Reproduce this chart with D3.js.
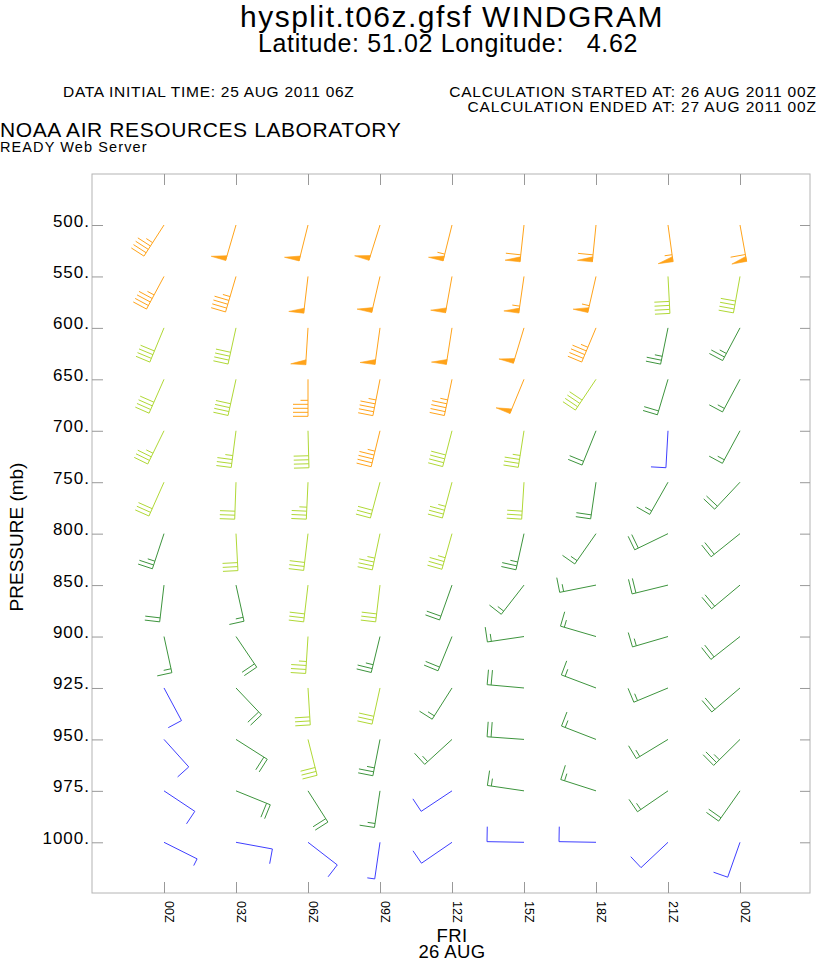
<!DOCTYPE html>
<html><head><meta charset="utf-8">
<script src="https://cdn.jsdelivr.net/npm/d3@7"></script>
<style>
html,body{margin:0;padding:0;background:#fff;}
svg{display:block;font-family:"Liberation Sans",Arial,Helvetica,sans-serif;}
</style></head><body>
<svg id="chart" width="816" height="962"></svg>
<script>
// ---- data ----
const levels = [500, 550, 600, 650, 700, 750, 800, 850, 900, 925, 950, 975, 1000];
const levelLabels = ["500.", "550.", "600.", "650.", "700.", "750.", "800.", "850.", "900.", "925.", "950.", "975.", "1000."];
const timeLabels = ["00Z", "03Z", "06Z", "09Z", "12Z", "15Z", "18Z", "21Z", "00Z"];
const dayLabel = "FRI";
const dateLabel = "26 AUG";

// wind direction (degrees, direction wind blows from), one row per level, one column per time
const windDir = [
  [212.8, 196.3, 194.0, 197.4, 194.0, 186.2, 185.7, 172.2, 169.7],
  [208.2, 196.4, 186.7, 193.0, 190.2, 188.2, 192.9, 177.0, 190.2],
  [202.5, 192.4, 183.6, 187.9, 188.9, 196.8, 202.7, 191.5, 208.0],
  [203.8, 192.4, 180.0, 191.1, 191.9, 202.4, 213.8, 196.6, 208.2],
  [206.1, 187.4, 178.5, 193.8, 194.6, 188.9, 202.1, 183.2, 208.4],
  [204.0, 182.0, 182.6, 195.0, 195.0, 183.6, 188.3, 209.6, 223.2],
  [198.3, 177.0, 186.7, 192.0, 195.8, 192.5, 215.0, 244.1, 231.3],
  [186.7, 167.5, 186.7, 186.7, 199.6, 217.9, 258.7, 256.2, 230.1],
  [167.7, 145.9, 183.6, 193.7, 202.2, 261.6, 286.3, 253.7, 231.8],
  [151.8, 136.5, 176.5, 192.4, 212.4, 275.1, 290.7, 247.4, 229.6],
  [138.0, 122.4, 165.8, 191.1, 227.6, 274.1, 291.2, 238.8, 225.4],
  [123.6, 112.1, 147.5, 188.6, 236.4, 278.4, 287.8, 235.6, 215.2],
  [116.6, 100.4, 127.7, 188.2, 235.6, 271.0, 271.0, 226.8, 199.4]
];
// wind speed (knots)
const windSpeed = [
  [45, 50, 50, 50, 55, 60, 60, 55, 60],
  [45, 45, 50, 50, 50, 55, 55, 40, 40],
  [40, 40, 50, 50, 50, 50, 45, 25, 25],
  [40, 40, 45, 45, 45, 50, 40, 20, 15],
  [35, 35, 40, 45, 40, 35, 20, 10, 15],
  [30, 30, 35, 30, 35, 30, 20, 15, 20],
  [25, 30, 30, 35, 35, 25, 15, 20, 20],
  [20, 15, 30, 30, 20, 15, 15, 20, 20],
  [15, 20, 35, 25, 20, 15, 15, 15, 20],
  [10, 20, 30, 30, 15, 20, 15, 15, 20],
  [10, 20, 30, 25, 15, 20, 15, 15, 25],
  [10, 20, 20, 15, 10, 15, 15, 15, 20],
  [5, 10, 10, 5, 10, 10, 10, 10, 10]
];
const speedBreaks = [12.5, 27.5, 42.5];
const speedColors = ["#3f3fff", "#3d943d", "#b0d836", "#ffa31a"];

// ---- drawing ----
const svg = d3.select("#chart");
const frameL = 92, frameR = 810, frameT = 174, frameB = 893;

const x = d3.scalePoint().domain(d3.range(timeLabels.length)).range([164, 740]);
const y = d3.scalePoint().domain(levels).range([225, 842.3]);
const color = d3.scaleThreshold().domain(speedBreaks).range(speedColors);

// titles
function txt(str, xx, yy, size, anchor, ls) {
  return svg.append("text").attr("x", xx).attr("y", yy)
    .attr("font-size", size).attr("text-anchor", anchor || "start")
    .attr("letter-spacing", ls || 0).attr("fill", "#000")
    .style("white-space", "pre").text(str);
}
txt("hysplit.t06z.gfsf WINDGRAM", 452, 27, 30, "middle", 1.5);
txt("Latitude: 51.02 Longitude:   4.62", 448, 52, 25, "middle", 0.65);
txt("DATA INITIAL TIME: 25 AUG 2011 06Z", 63, 97, 15.5, "start", 0.72);
txt("CALCULATION STARTED AT: 26 AUG 2011 00Z", 816.8, 97, 15.5, "end", 0.85);
txt("CALCULATION ENDED AT: 27 AUG 2011 00Z", 816.8, 112, 15.5, "end", 0.85);
txt("NOAA AIR RESOURCES LABORATORY", 0, 137, 21, "start", 0.6);
txt("READY Web Server", 0, 152, 14.5, "start", 1.1);

// frame
svg.append("rect").attr("x", frameL).attr("y", frameT)
  .attr("width", frameR - frameL).attr("height", frameB - frameT)
  .attr("fill", "none").attr("stroke", "#b4b4b4").attr("stroke-width", 1);

function styleAxis(g) {
  g.select(".domain").remove();
  g.selectAll(".tick line").attr("stroke", "#999");
}
// left axis
const gl = svg.append("g").attr("transform", `translate(${frameL},0)`)
  .call(d3.axisLeft(y).tickSize(-11).tickSizeOuter(0).tickPadding(2)
    .tickFormat((d, i) => levelLabels[i]));
styleAxis(gl);
gl.attr("font-family", null);
gl.selectAll(".tick text").attr("font-size", 17).attr("letter-spacing", 1)
  .attr("dy", "1px").attr("fill", "#000");

// right axis
const gr = svg.append("g").attr("transform", `translate(${frameR},0)`)
  .call(d3.axisRight(y).tickSize(-10).tickSizeOuter(0).tickFormat(""));
styleAxis(gr);
// top axis
const gt = svg.append("g").attr("transform", `translate(0,${frameT})`)
  .call(d3.axisTop(x).tickSize(-11).tickSizeOuter(0).tickFormat(""));
styleAxis(gt);
// bottom axis
const gb = svg.append("g").attr("transform", `translate(0,${frameB})`)
  .call(d3.axisBottom(x).tickSize(-11).tickSizeOuter(0).tickFormat(d => timeLabels[d]));
styleAxis(gb);
gb.attr("font-family", null);
gb.selectAll(".tick text").attr("x", 0).attr("y", 0).attr("dy", 0)
  .attr("transform", "translate(0,8) rotate(90)")
  .attr("text-anchor", "start").attr("font-size", 12.5).attr("fill", "#000");

// axis titles
svg.append("text").attr("transform", "translate(23,537) rotate(-90)")
  .attr("text-anchor", "middle").attr("font-size", 19).attr("fill", "#000")
  .text("PRESSURE (mb)");
txt(dayLabel, 452, 941.5, 18.5, "middle", 0.4);
txt(dateLabel, 452, 958, 18.5, "middle", 0.4);

// wind barbs
const staffLen = 37, featherLen = 15, spacing = 4, flagWidth = 5;
const cells = [];
levels.forEach((lev, i) => {
  timeLabels.forEach((t, j) => {
    cells.push({ lev, t: j, dir: windDir[i][j], spd: windSpeed[i][j] });
  });
});

const gBarbs = svg.append("g");
cells.forEach(c => {
  const sx = x(c.t), sy = y(c.lev);
  const th = c.dir * Math.PI / 180;
  const ux = Math.sin(th), uy = -Math.cos(th);
  const fx = Math.cos(th), fy = Math.sin(th);
  const ex = sx + staffLen * ux, ey = sy + staffLen * uy;
  const col = color(c.spd);
  let s = Math.round(c.spd / 5) * 5;
  const n50 = Math.floor(s / 50); s -= n50 * 50;
  const n10 = Math.floor(s / 10); s -= n10 * 10;
  const n5 = s >= 5 ? 1 : 0;

  const p = d3.path();
  p.moveTo(sx, sy); p.lineTo(ex, ey);
  const fp = d3.path();
  let off = 0;
  for (let k = 0; k < n50; k++) {
    const bx = ex - off * ux, by = ey - off * uy;
    fp.moveTo(bx, by);
    fp.lineTo(bx + featherLen * fx, by + featherLen * fy);
    fp.lineTo(ex - (off + flagWidth) * ux, ey - (off + flagWidth) * uy);
    fp.closePath();
    off += flagWidth + 2;
  }
  for (let k = 0; k < n10; k++) {
    const bx = ex - off * ux, by = ey - off * uy;
    p.moveTo(bx, by);
    p.lineTo(bx + featherLen * fx, by + featherLen * fy);
    off += spacing;
  }
  if (n5) {
    const bx = ex - off * ux, by = ey - off * uy;
    p.moveTo(bx, by);
    p.lineTo(bx + featherLen / 2 * fx, by + featherLen / 2 * fy);
  }
  gBarbs.append("path").attr("d", p.toString()).attr("fill", "none")
    .attr("stroke", col).attr("stroke-width", 1);
  if (n50) {
    gBarbs.append("path").attr("d", fp.toString()).attr("fill", col)
      .attr("stroke", col).attr("stroke-width", 0.6);
  }
});
</script>
</body></html>
